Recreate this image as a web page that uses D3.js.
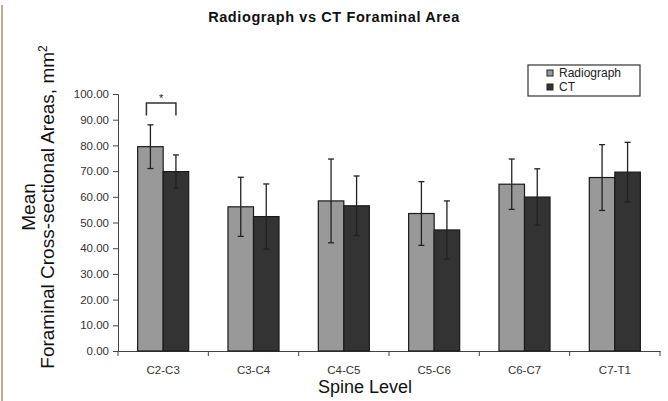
<!DOCTYPE html>
<html>
<head>
<meta charset="utf-8">
<script src="https://cdn.jsdelivr.net/npm/d3@7"></script>
<style>
  body { margin: 0; background: #fff; }
  svg text { font-family: Arial, 'Liberation Sans', sans-serif; }
</style>
</head>
<body>
<div id="chart"></div>
<script>
const levels = ['C2-C3', 'C3-C4', 'C4-C5', 'C5-C6', 'C6-C7', 'C7-T1'];
const seriesNames = ['Radiograph', 'CT'];
const radiographMean = [79.5, 56.1, 58.4, 53.5, 64.9, 67.5];
const radiographSD = [8.5, 11.5, 16.3, 12.4, 9.8, 12.8];
const ctMean = [69.8, 52.3, 56.5, 47.1, 59.9, 69.6];
const ctSD = [6.5, 12.7, 11.6, 11.3, 11.0, 11.6];
const yTicks = [0, 10, 20, 30, 40, 50, 60, 70, 80, 90, 100];
// significance bracket between the two bars of one level
const sigLevel = 'C2-C3';
const sigTop = 96.5;
const sigLeg = 91.6;

const colors = ['#999999', '#333333'];

const width = 668, height = 401;
const margin = { top: 94, right: 8, bottom: 50, left: 118 };

const svg = d3.select('#chart').append('svg')
  .attr('width', width)
  .attr('height', height);

// thin border at the left edge
svg.append('line')
  .attr('x1', 2).attr('x2', 2)
  .attr('y1', 5).attr('y2', height)
  .attr('stroke', '#ab9870')
  .attr('stroke-width', 1.6);

const x0 = d3.scaleBand()
  .domain(levels)
  .range([margin.left, 660])
  .paddingInner(0.435)
  .paddingOuter(0.2175);

const x1 = d3.scaleBand()
  .domain(seriesNames)
  .range([0, x0.bandwidth()]);

const y = d3.scaleLinear()
  .domain([0, 100])
  .range([351, margin.top]);

const data = levels.map((lv, i) => ({
  level: lv,
  values: [
    { name: 'Radiograph', mean: radiographMean[i], sd: radiographSD[i] },
    { name: 'CT', mean: ctMean[i], sd: ctSD[i] }
  ]
}));

// title
svg.append('text')
  .attr('x', 334)
  .attr('y', 22)
  .attr('text-anchor', 'middle')
  .style('font-size', '14.5px')
  .style('font-weight', 'bold')
  .style('letter-spacing', '0.6px')
  .attr('fill', '#111')
  .text('Radiograph vs CT Foraminal Area');

// y axis
const yAxis = svg.append('g')
  .attr('transform', `translate(${margin.left},0)`)
  .call(d3.axisLeft(y).tickValues(yTicks).tickSize(5).tickFormat(d3.format('.2f')));
yAxis.select('.domain').attr('stroke', '#444');
yAxis.selectAll('line').attr('stroke', '#444');
yAxis.selectAll('text')
  .attr('x', -9)
  .style('font-size', '11.5px')
  .attr('fill', '#333');

// x axis
const xAxis = svg.append('g')
  .attr('transform', `translate(0,${y(0)})`)
  .call(d3.axisBottom(x0).tickSize(0).tickPadding(15));
xAxis.select('.domain').attr('stroke', '#444');
xAxis.selectAll('text')
  .style('font-size', '11.5px')
  .attr('fill', '#333');
// tick marks between categories
const bounds = levels.map(l => x0(l) - x0.step() * x0.paddingInner() / 2).concat([660]);
xAxis.selectAll('.sep')
  .data(bounds)
  .enter().append('line')
  .attr('class', 'sep')
  .attr('x1', d => d).attr('x2', d => d)
  .attr('y1', 0).attr('y2', 5)
  .attr('stroke', '#444');

// bars
const groups = svg.selectAll('.grp')
  .data(data)
  .enter().append('g')
  .attr('class', 'grp')
  .attr('transform', d => `translate(${x0(d.level)},0)`);

groups.selectAll('rect')
  .data(d => d.values)
  .enter().append('rect')
  .attr('x', d => x1(d.name))
  .attr('y', d => y(d.mean))
  .attr('width', x1.bandwidth())
  .attr('height', d => y(0) - y(d.mean))
  .attr('fill', (d, i) => colors[i])
  .attr('stroke', '#1a1a1a')
  .attr('stroke-width', 1.2);

// error bars
const err = groups.selectAll('.err')
  .data(d => d.values)
  .enter().append('g')
  .attr('class', 'err')
  .attr('stroke', '#222')
  .attr('stroke-width', 1.3);

err.append('line')
  .attr('x1', d => x1(d.name) + x1.bandwidth() / 2)
  .attr('x2', d => x1(d.name) + x1.bandwidth() / 2)
  .attr('y1', d => y(d.mean + d.sd))
  .attr('y2', d => y(d.mean - d.sd));
[1, -1].forEach(s => {
  err.append('line')
    .attr('x1', d => x1(d.name) + x1.bandwidth() / 2 - 3)
    .attr('x2', d => x1(d.name) + x1.bandwidth() / 2 + 3)
    .attr('y1', d => y(d.mean + s * d.sd))
    .attr('y2', d => y(d.mean + s * d.sd));
});

// significance bracket
const bl = x0(sigLevel) + x1('Radiograph') + x1.bandwidth() / 2 - 4;
const br = x0(sigLevel) + x1('CT') + x1.bandwidth() / 2;
svg.append('path')
  .attr('d', `M${bl},${y(sigLeg)}V${y(sigTop)}H${br}V${y(sigLeg)}`)
  .attr('fill', 'none')
  .attr('stroke', '#333')
  .attr('stroke-width', 1.5);
svg.append('text')
  .attr('x', (bl + br) / 2)
  .attr('y', y(sigTop) - 1)
  .attr('text-anchor', 'middle')
  .style('font-size', '11px')
  .attr('fill', '#222')
  .text('*');

// y axis title (two lines)
const yTitle = svg.append('text')
  .attr('transform', 'translate(0,207) rotate(-90)')
  .attr('text-anchor', 'middle')
  .style('font-size', '19px')
  .attr('fill', '#111');
yTitle.append('tspan').attr('x', 0).attr('y', 35).text('Mean');
yTitle.append('tspan').attr('x', 0).attr('y', 54).text('Foraminal Cross-sectional Areas, mm');
yTitle.append('tspan').attr('dy', -7).style('font-size', '12px').text('2');

// x axis title
svg.append('text')
  .attr('x', 365)
  .attr('y', 393)
  .attr('text-anchor', 'middle')
  .style('font-size', '18px')
  .attr('fill', '#111')
  .text('Spine Level');

// legend
const legend = svg.append('g').attr('transform', 'translate(528,65)');
legend.append('rect')
  .attr('width', 112).attr('height', 31)
  .attr('fill', '#fff')
  .attr('stroke', '#333')
  .attr('stroke-width', 1.2);
const li = legend.selectAll('.li')
  .data(seriesNames)
  .enter().append('g')
  .attr('class', 'li')
  .attr('transform', (d, i) => `translate(19,${5 + i * 14})`);
li.append('rect')
  .attr('width', 6).attr('height', 6)
  .attr('fill', (d, i) => colors[i])
  .attr('stroke', '#222');
li.append('text')
  .attr('x', 12)
  .attr('y', 7)
  .style('font-size', '12px')
  .attr('fill', '#222')
  .text(d => d);
</script>
</body>
</html>
